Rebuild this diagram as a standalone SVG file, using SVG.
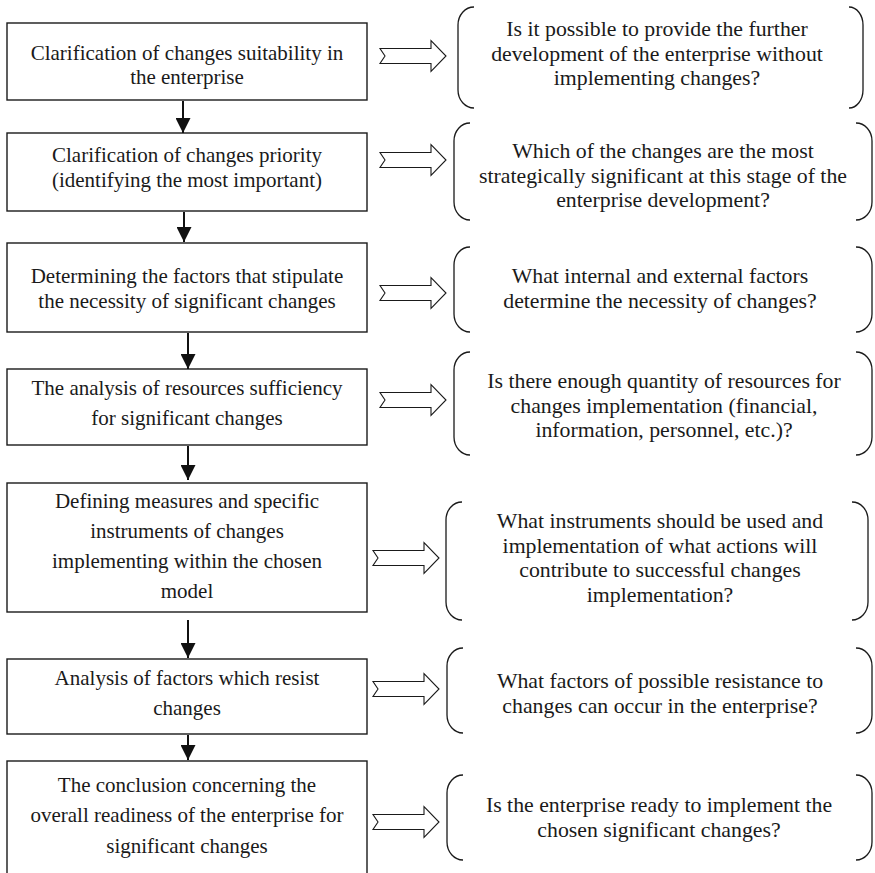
<svg xmlns="http://www.w3.org/2000/svg" width="875" height="873" viewBox="0 0 875 873">
<defs>
<style>
.box{fill:#fff;stroke:#1a1a1a;stroke-width:1.4}
.br{fill:none;stroke:#1a1a1a;stroke-width:1.3}
.ha{fill:#fff;stroke:#1a1a1a;stroke-width:1.1;stroke-linejoin:miter}
.lt{font-family:"Liberation Serif","Times New Roman",serif;font-size:21px;fill:#1a1a1a;text-anchor:middle}
.rt{font-family:"Liberation Serif","Times New Roman",serif;font-size:21.8px;fill:#1a1a1a;text-anchor:middle}
.dn{stroke:#111;stroke-width:2;fill:none}
</style>
<marker id="ah" viewBox="0 0 15 15" refX="15" refY="7.5" markerWidth="15" markerHeight="15" markerUnits="userSpaceOnUse" orient="auto">
<path d="M0,0 L15,7.5 L0,15 Z" fill="#111"/>
</marker>
<path id="hollow" d="M0,-7.5 L51,-7.5 L51,-15.5 L66,0 L51,15.5 L51,7.5 L0,7.5 L5,0 Z"/>
</defs>
<rect width="875" height="873" fill="#fff"/>

<g id="step1"><rect class="box" x="7" y="23" width="360" height="77"/>
<text class="lt"><tspan x="187" y="60">Clarification of changes suitability in</tspan><tspan x="187" y="84">the enterprise</tspan></text></g>
<g id="step2"><rect class="box" x="7" y="133" width="360" height="78"/>
<text class="lt"><tspan x="187" y="162">Clarification of changes priority</tspan><tspan x="187" y="187">(identifying the most important)</tspan></text></g>
<g id="step3"><rect class="box" x="7" y="243" width="360" height="89"/>
<text class="lt"><tspan x="187" y="283">Determining the factors that stipulate</tspan><tspan x="187" y="308">the necessity of significant changes</tspan></text></g>
<g id="step4"><rect class="box" x="7" y="369" width="360" height="76"/>
<text class="lt"><tspan x="187" y="395">The analysis of resources sufficiency</tspan><tspan x="187" y="425">for significant changes</tspan></text></g>
<g id="step5"><rect class="box" x="7" y="483" width="360" height="129"/>
<text class="lt"><tspan x="187" y="508">Defining measures and specific</tspan><tspan x="187" y="538">instruments of changes</tspan><tspan x="187" y="568">implementing within the chosen</tspan><tspan x="187" y="598">model</tspan></text></g>
<g id="step6"><rect class="box" x="7" y="659" width="360" height="75"/>
<text class="lt"><tspan x="187" y="685">Analysis of factors which resist</tspan><tspan x="187" y="715">changes</tspan></text></g>
<g id="step7"><rect class="box" x="7" y="761" width="360" height="130"/>
<text class="lt"><tspan x="187" y="792">The conclusion concerning the</tspan><tspan x="187" y="822">overall readiness of the enterprise for</tspan><tspan x="187" y="853">significant changes</tspan></text></g>

<g id="q1"><path class="br" d="M474,7 A16 18 0 0 0 458,25 V90 A16 18 0 0 0 474,108 M849,7 A14 18 0 0 1 863,25 V90 A14 18 0 0 1 849,108"/>
<text class="rt"><tspan x="657" y="36">Is it possible to provide the further</tspan><tspan x="657" y="61">development of the enterprise without</tspan><tspan x="657" y="85">implementing changes?</tspan></text></g>
<g id="q2"><path class="br" d="M470,123 A16 18 0 0 0 454,141 V202 A16 18 0 0 0 470,220 M856,123 A16 18 0 0 1 872,141 V202 A16 18 0 0 1 856,220"/>
<text class="rt"><tspan x="663" y="158">Which of the changes are the most</tspan><tspan x="663" y="183">strategically significant at this stage of the</tspan><tspan x="663" y="207">enterprise development?</tspan></text></g>
<g id="q3"><path class="br" d="M470,247 A16 18 0 0 0 454,265 V314 A16 18 0 0 0 470,332 M856,247 A16 18 0 0 1 872,265 V314 A16 18 0 0 1 856,332"/>
<text class="rt"><tspan x="660" y="283">What internal and external factors</tspan><tspan x="660" y="308">determine the necessity of changes?</tspan></text></g>
<g id="q4"><path class="br" d="M470,352 A16 18 0 0 0 454,370 V437 A16 18 0 0 0 470,455 M856,352 A16 18 0 0 1 872,370 V437 A16 18 0 0 1 856,455"/>
<text class="rt"><tspan x="664" y="388">Is there enough quantity of resources for</tspan><tspan x="664" y="413">changes implementation (financial,</tspan><tspan x="664" y="437">information, personnel, etc.)?</tspan></text></g>
<g id="q5"><path class="br" d="M462,502 A16 18 0 0 0 446,520 V602 A16 18 0 0 0 462,620 M852,502 A16 18 0 0 1 868,520 V602 A16 18 0 0 1 852,620"/>
<text class="rt"><tspan x="660" y="528">What instruments should be used and</tspan><tspan x="660" y="553">implementation of what actions will</tspan><tspan x="660" y="577">contribute to successful changes</tspan><tspan x="660" y="602">implementation?</tspan></text></g>
<g id="q6"><path class="br" d="M463,648 A16 18 0 0 0 447,666 V715 A16 18 0 0 0 463,733 M856,648 A16 18 0 0 1 872,666 V715 A16 18 0 0 1 856,733"/>
<text class="rt"><tspan x="660" y="688">What factors of possible resistance to</tspan><tspan x="660" y="713">changes can occur in the enterprise?</tspan></text></g>
<g id="q7"><path class="br" d="M463,775 A16 18 0 0 0 447,793 V842 A16 18 0 0 0 463,860 M856,775 A16 18 0 0 1 872,793 V842 A16 18 0 0 1 856,860"/>
<text class="rt"><tspan x="659" y="812">Is the enterprise ready to implement the</tspan><tspan x="659" y="837">chosen significant changes?</tspan></text></g>

<g id="connectors">
<line class="dn" x1="183" y1="101" x2="183" y2="133" marker-end="url(#ah)"/>
<line class="dn" x1="184" y1="212" x2="184" y2="242" marker-end="url(#ah)"/>
<line class="dn" x1="188" y1="333" x2="188" y2="369" marker-end="url(#ah)"/>
<line class="dn" x1="188" y1="446" x2="188" y2="480" marker-end="url(#ah)"/>
<line class="dn" x1="188" y1="620" x2="188" y2="658" marker-end="url(#ah)"/>
<line class="dn" x1="188" y1="735" x2="188" y2="760" marker-end="url(#ah)"/>
<use href="#hollow" class="ha" x="380" y="56"/>
<use href="#hollow" class="ha" x="380" y="160"/>
<use href="#hollow" class="ha" x="380" y="293"/>
<use href="#hollow" class="ha" x="380" y="400"/>
<use href="#hollow" class="ha" x="373" y="558"/>
<use href="#hollow" class="ha" x="373" y="689"/>
<use href="#hollow" class="ha" x="373" y="822"/>
</g>
</svg>
